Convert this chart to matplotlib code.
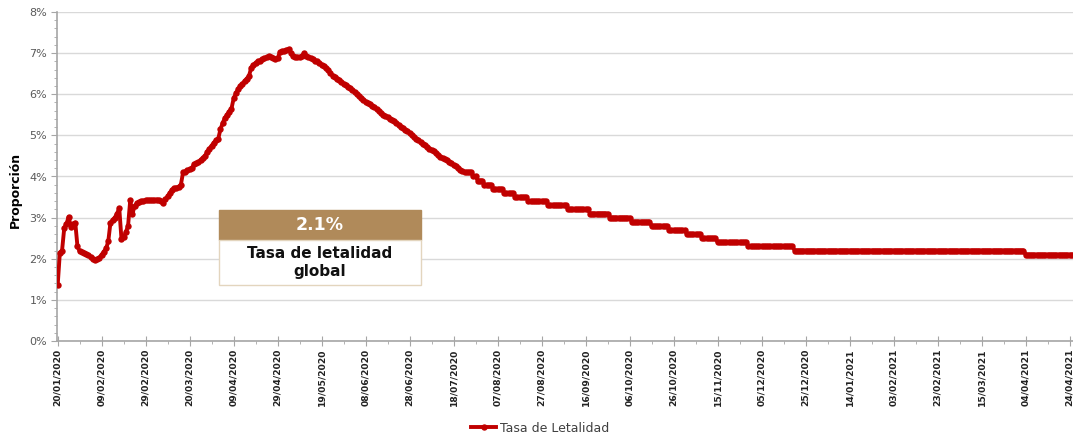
import matplotlib
matplotlib.use("Agg")
import matplotlib.pyplot as plt
import matplotlib.dates as mdates
from matplotlib.patches import Rectangle
import numpy as np
import datetime as dt

# ---------------- data ----------------
start_date = "2020-01-20"
# daily case fatality rate (%), 20/01/2020 .. 21/07/2020
early_values = [
    1.35, 2.15, 2.20, 2.75, 2.85, 3.02, 2.78, 2.85, 2.88, 2.30,
    2.18, 2.16, 2.15, 2.12, 2.08, 2.05, 2.00, 1.98, 2.00, 2.03,
    2.10, 2.17, 2.25, 2.42, 2.88, 2.94, 3.00, 3.10, 3.23, 2.48,
    2.52, 2.65, 2.80, 3.43, 3.10, 3.28, 3.35, 3.38, 3.40, 3.41,
    3.42, 3.42, 3.43, 3.42, 3.43, 3.44, 3.42, 3.40, 3.35, 3.45,
    3.52, 3.60, 3.68, 3.72, 3.73, 3.75, 3.80, 4.10, 4.12, 4.15,
    4.18, 4.20, 4.30, 4.32, 4.35, 4.40, 4.45, 4.50, 4.60, 4.68,
    4.75, 4.82, 4.88, 4.92, 5.15, 5.30, 5.42, 5.50, 5.58, 5.65,
    5.90, 6.02, 6.12, 6.20, 6.26, 6.32, 6.38, 6.45, 6.65, 6.72,
    6.76, 6.80, 6.82, 6.85, 6.88, 6.90, 6.92, 6.90, 6.88, 6.85,
    6.88, 7.02, 7.05, 7.05, 7.08, 7.10, 7.00, 6.92, 6.90, 6.90,
    6.90, 6.92, 7.00, 6.92, 6.90, 6.87, 6.85, 6.82, 6.80, 6.76,
    6.72, 6.68, 6.63, 6.59, 6.52, 6.45, 6.42, 6.38, 6.34, 6.30,
    6.26, 6.22, 6.18, 6.15, 6.10, 6.05, 6.00, 5.96, 5.92, 5.87,
    5.82, 5.78, 5.76, 5.72, 5.68, 5.64, 5.60, 5.55, 5.50, 5.47,
    5.44, 5.41, 5.38, 5.34, 5.30, 5.26, 5.21, 5.17, 5.13, 5.10,
    5.06, 5.02, 4.97, 4.92, 4.88, 4.84, 4.80, 4.76, 4.72, 4.68,
    4.64, 4.61, 4.57, 4.52, 4.48, 4.45, 4.42, 4.39, 4.36, 4.32,
    4.28, 4.25, 4.20, 4.17, 4.13, 4.10,
]
# later part: value (%) held for a number of days (stepped data)
step_levels = [4.1, 4.0, 3.9, 3.8, 3.7, 3.6, 3.5, 3.4, 3.3, 3.2, 3.1, 3.0,
               2.9, 2.8, 2.7, 2.6, 2.5, 2.4, 2.3, 2.2, 2.1]
step_days = [3, 2, 3, 4, 5, 5, 6, 9, 9, 10, 9, 10,
             9, 8, 8, 7, 7, 14, 21, 105, 22]

tick_start = "2020-01-20"
tick_step_days = 20
y_ticks = [0, 1, 2, 3, 4, 5, 6, 7, 8]
series_name = "Tasa de Letalidad"
box_value = "2.1%"
box_label = "Tasa de letalidad\nglobal"
y_label = "Proporción"

# ---------------- build series ----------------
values = list(early_values)
for lvl, n in zip(step_levels, step_days):
    values += [lvl] * n
d0 = np.datetime64(start_date)
dates = d0 + np.arange(len(values)).astype("timedelta64[D]")
dates = dates.astype("datetime64[ms]").astype(dt.datetime)

# ---------------- figure ----------------
W, H = 1073, 436
fig = plt.figure(figsize=(W / 100, H / 100), dpi=100)
ax = fig.add_axes([57 / W, 1 - 341 / H, 1 - 57 / W, (341 - 12) / H])

red = "#C00000"
ax.plot(dates, values, color=red, lw=2.8, marker="o", ms=4.6,
        markeredgewidth=0, label=series_name, zorder=3)

ax.set_ylim(0, 8)
ax.set_yticks(y_ticks)
ax.set_yticklabels([f"{t}%" for t in y_ticks])
ax.yaxis.set_minor_locator(matplotlib.ticker.MultipleLocator(0.2))

t0 = dt.datetime.strptime(tick_start, "%Y-%m-%d")
xmin = t0 - dt.timedelta(days=0.3)
xmax = t0 + dt.timedelta(days=461.5)
ax.set_xlim(xmin, xmax)
major = [t0 + dt.timedelta(days=k * tick_step_days) for k in range(24)]
minor = [t0 + dt.timedelta(days=k * tick_step_days + tick_step_days / 2) for k in range(23)]
ax.set_xticks(major)
ax.set_xticks(minor, minor=True)
ax.xaxis.set_major_formatter(mdates.DateFormatter("%d/%m/%Y"))
for lab in ax.get_xticklabels():
    lab.set_rotation(90)
    lab.set_fontsize(6.6)
    lab.set_fontweight("bold")
    lab.set_color("#222222")

ax.tick_params(axis="y", which="major", length=4, color="#A6A6A6",
               labelsize=8, labelcolor="#595959", pad=3)
ax.tick_params(axis="y", which="minor", length=2, color="#A6A6A6")
ax.tick_params(axis="x", which="major", direction="inout", length=7,
               color="#A6A6A6", pad=2)
ax.tick_params(axis="x", which="minor", direction="out", length=2, color="#A6A6A6")

ax.grid(axis="y", color="#D9D9D9", lw=1)
ax.set_axisbelow(True)
for s in ["top", "right"]:
    ax.spines[s].set_visible(False)
for s in ["left", "bottom"]:
    ax.spines[s].set_color("#A6A6A6")
    ax.spines[s].set_linewidth(1.2)

fig.text(15 / W, 1 - 190 / H, y_label, rotation=90, ha="center", va="center",
         fontsize=9, fontweight="bold", color="#000000")

# annotation box
bx0, bx1 = 219, 421
hy0, hy1, ly1 = 210, 240, 285
fig.patches.append(Rectangle((bx0 / W, 1 - hy1 / H), (bx1 - bx0) / W, (hy1 - hy0) / H,
                             transform=fig.transFigure, facecolor="#B08A5A",
                             edgecolor="#B08A5A", zorder=5))
fig.patches.append(Rectangle((bx0 / W, 1 - ly1 / H), (bx1 - bx0) / W, (ly1 - hy1) / H,
                             transform=fig.transFigure, facecolor="white",
                             edgecolor="#E3D5BE", lw=1, zorder=5))
fig.text((bx0 + bx1) / 2 / W, 1 - (hy0 + hy1) / 2 / H, box_value, ha="center",
         va="center", fontsize=12.5, fontweight="bold", color="white", zorder=6)
fig.text((bx0 + bx1) / 2 / W, 1 - (hy1 + ly1) / 2 / H, box_label, ha="center",
         va="center", fontsize=11, fontweight="bold", color="#111111",
         linespacing=1.25, zorder=6)

leg = fig.legend(loc="center", bbox_to_anchor=(540 / W, 1 - 428 / H), frameon=False,
                 fontsize=9, handlelength=2.0, handletextpad=0.3)
for t in leg.get_texts():
    t.set_color("#404040")

fig.savefig("out.png", dpi=100)
